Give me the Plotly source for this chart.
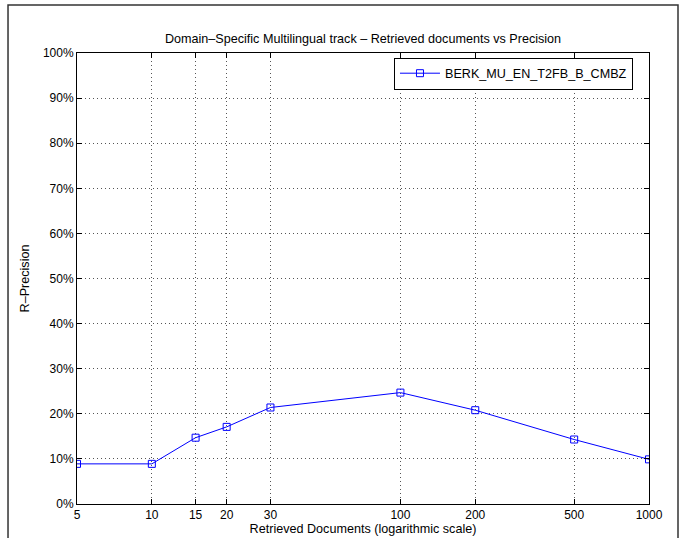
#!/usr/bin/env python3

import plotly.graph_objects as go

# retrieved documents vs R-precision
docs = [5, 10, 15, 20, 30, 100, 200, 500, 1000]
precision = [0.089, 0.089, 0.147, 0.171, 0.214, 0.247, 0.208, 0.143, 0.099]
run_name = 'BERK_MU_EN_T2FB_B_CMBZ'

x_ticks = [5, 10, 15, 20, 30, 100, 200, 500, 1000]
y_ticks = [i / 10 for i in range(11)]
y_labels = [f'{i * 10}%' for i in range(11)]

family = 'Liberation Sans, Arial, Helvetica, sans-serif'
font = dict(family=family, size=12.6, color='black')
tick_font = dict(family=family, size=12, color='black')

fig = go.Figure()
fig.add_trace(go.Scatter(
    x=docs, y=precision, name=run_name, mode='lines+markers',
    line=dict(color='#0000ff', width=1),
    marker=dict(symbol='square-open', size=7, color='#0000ff', line=dict(width=1)),
))

axis_common = dict(
    showline=True, linecolor='black', linewidth=1, mirror='ticks',
    ticks='inside', ticklen=5, tickcolor='black',
    showgrid=True, gridcolor='#555555', gridwidth=1, griddash='1px,3px',
    zeroline=False, tickfont=tick_font, automargin=False,
)

fig.update_xaxes(type='log', range=[0.69897, 3.0], tickvals=x_ticks,
                 ticktext=[str(v) for v in x_ticks],
                 title=dict(text='Retrieved Documents (logarithmic scale)', font=font, standoff=0),
                 **axis_common)
fig.update_yaxes(range=[0, 1], tickvals=y_ticks, ticktext=y_labels,
                 title=dict(text='R\u2013Precision', font=font, standoff=10),
                 **axis_common)

# outer frame of the scanned figure
fig.add_shape(type='rect', xref='paper', yref='paper',
              x0=-0.1206, x1=1.0507, y0=-0.2, y1=1.1064,
              line=dict(color='#333333', width=1.5), layer='below')

fig.update_layout(
    width=683, height=538,
    margin=dict(l=77, r=34, t=53, b=34),
    plot_bgcolor='white', paper_bgcolor='white',
    font=font,
    title=dict(text='Domain\u2013Specific Multilingual track \u2013 Retrieved documents vs Precision',
               x=0.5, xref='paper', xanchor='center', y=0.9275, yref='container', yanchor='middle',
               font=font),
    showlegend=True,
    legend=dict(x=0.972, y=0.99, xanchor='right', yanchor='top',
                bordercolor='black', borderwidth=1, bgcolor='white',
                font=font, itemwidth=40, tracegroupgap=0),
)

fig.write_html('out.html', config={'displayModeBar': False},
               post_script="document.body.style.margin='0';")
